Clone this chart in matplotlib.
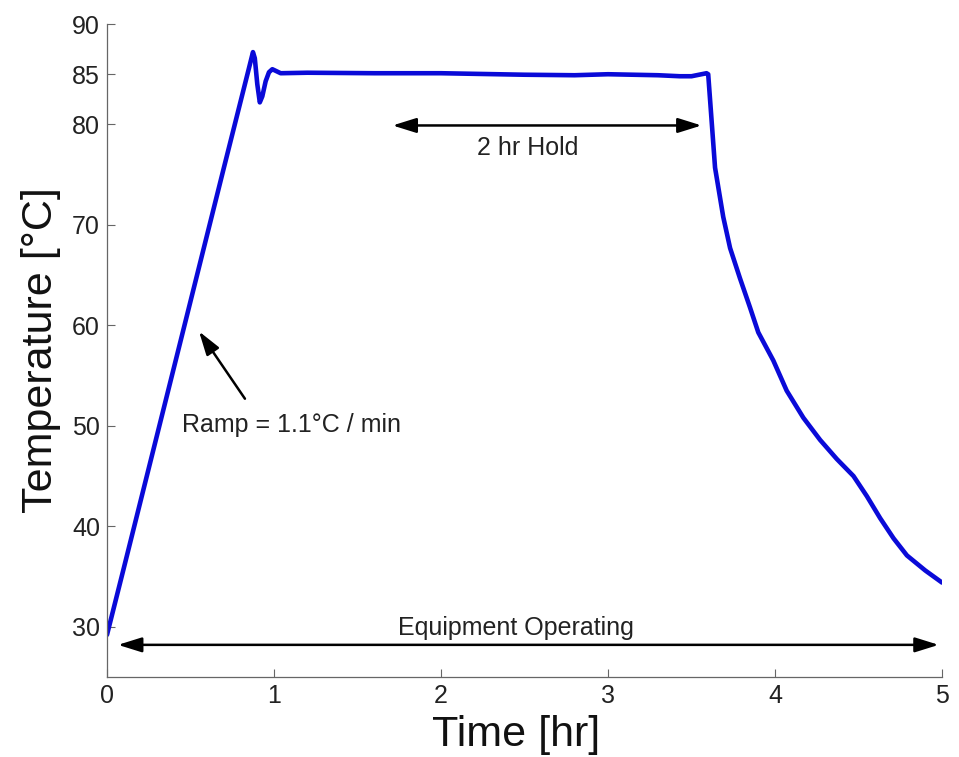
import matplotlib
matplotlib.use("Agg")
import matplotlib.pyplot as plt

plt.rcParams['font.family'] = ['Liberation Sans', 'DejaVu Sans']

# Oven cycle: temperature vs. time
time_hr = [0.0, 0.10, 0.30, 0.50, 0.70, 0.80, 0.85, 0.874, 0.885, 0.90, 0.915,
           0.93, 0.95, 0.97, 0.99, 1.04, 1.20, 1.60, 2.00, 2.50, 2.80, 3.00,
           3.30, 3.43, 3.50, 3.59, 3.60, 3.641, 3.69, 3.731, 3.79, 3.85, 3.90,
           3.99, 4.07, 4.17, 4.27, 4.37, 4.47, 4.55, 4.63, 4.71, 4.79, 4.90, 5.0]
temp_c = [29.2, 35.8, 49.1, 62.4, 75.7, 82.3, 85.6, 87.2, 86.6, 84.0, 82.2,
          82.8, 84.3, 85.2, 85.5, 85.1, 85.15, 85.1, 85.1, 84.95, 84.9, 85.0,
          84.9, 84.8, 84.8, 85.1, 85.0, 75.7, 70.8, 67.7, 64.7, 61.8, 59.3,
          56.5, 53.5, 50.8, 48.6, 46.7, 45.0, 43.0, 40.8, 38.8, 37.1, 35.6, 34.4]

x_ticks = [0, 1, 2, 3, 4, 5]
y_ticks = [30, 40, 50, 60, 70, 80, 85, 90]

hold_span = (1.71, 3.56)
operating_span = (0.066, 4.98)

fig = plt.figure(figsize=(9.59, 7.57), dpi=100)
ax = fig.add_axes([107 / 959, 80 / 757, 835 / 959, 653 / 757])

ax.plot(time_hr, temp_c, color='#0a0ad8', linewidth=3.3,
        solid_joinstyle='round', solid_capstyle='round')

ax.set_xlim(0, 5)
ax.set_ylim(25, 90)
ax.set_xticks(x_ticks)
ax.set_yticks(y_ticks)
ax.tick_params(direction='in', length=6, width=0.8, color='#666666',
               labelsize=18, labelcolor='#222222', pad=5)
for side in ('top', 'right'):
    ax.spines[side].set_visible(False)
for side in ('left', 'bottom'):
    ax.spines[side].set_color('#666666')
    ax.spines[side].set_linewidth(0.9)

arrow_both = dict(arrowstyle='<|-|>,head_length=0.8,head_width=0.25',
                  mutation_scale=18, color='black', lw=1.8,
                  shrinkA=0, shrinkB=0)

# 2 hr hold marker
ax.annotate('', xy=(hold_span[1], 79.9), xytext=(hold_span[0], 79.9),
            arrowprops=arrow_both)
ax.text(2.52, 77.0, '2 hr Hold', ha='center', va='baseline',
        fontsize=18, color='#222222')

# Equipment operating marker
ax.annotate('', xy=(operating_span[1], 28.2), xytext=(operating_span[0], 28.2),
            arrowprops=arrow_both)
ax.text(2.45, 29.2, 'Equipment Operating', ha='center', va='baseline',
        fontsize=18, color='#222222')

# Ramp rate callout
ax.annotate('', xy=(0.551, 59.4), xytext=(0.826, 52.7),
            arrowprops=dict(arrowstyle='-|>,head_length=0.8,head_width=0.25',
                            mutation_scale=18, color='black', lw=1.8,
                            shrinkA=0, shrinkB=0))
ax.text(0.449, 49.4, 'Ramp = 1.1°C / min', ha='left', va='baseline',
        fontsize=18, color='#222222')

fig.text(516 / 959, (757 - 746) / 757, 'Time [hr]', ha='center', va='baseline',
         fontsize=31, color='#111111')
fig.text(52 / 959, (757 - 350) / 757, 'Temperature [°C]', rotation=90,
         rotation_mode='anchor', ha='center', va='baseline',
         fontsize=31, color='#111111')

fig.savefig('out.png', dpi=100, facecolor='white')
